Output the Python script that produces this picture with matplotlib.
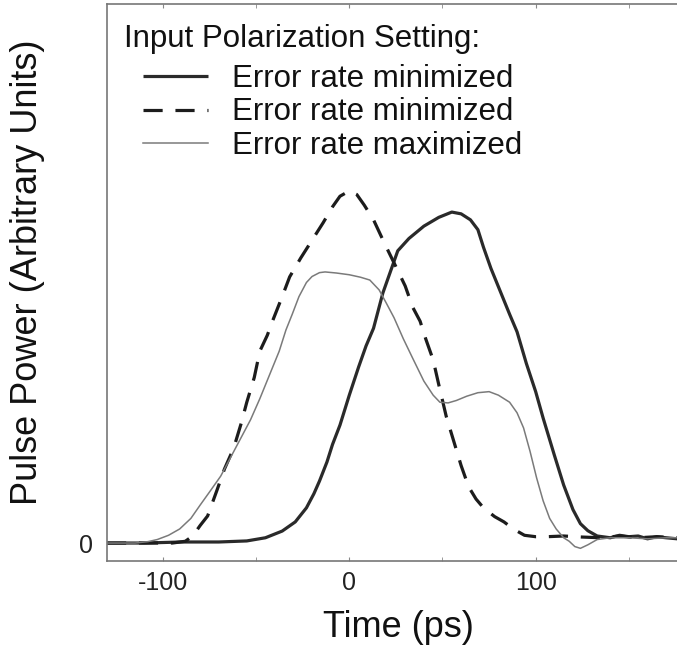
import matplotlib
matplotlib.use('Agg')
import matplotlib.pyplot as plt

plt.rcParams['font.family'] = ['Liberation Sans', 'DejaVu Sans']
plt.rcParams['axes.unicode_minus'] = False

# solid curve: error rate minimized (first setting)
t_solid = [-130, -110, -90, -70, -55, -45, -36, -29, -23, -19, -16, -12, -9, -5, 0, 5, 9, 13,
           18, 22, 26, 32, 40, 48, 55, 60, 65, 69, 72, 76, 81, 86, 90, 95, 100, 104, 110, 115,
           120, 124, 128, 133, 140, 145, 150, 155, 160, 165, 170, 176, 183]
p_solid = [0.0, 0.0, 0.003, 0.003, 0.006, 0.015, 0.034, 0.06, 0.10, 0.14, 0.176, 0.23, 0.28,
           0.335, 0.42, 0.50, 0.56, 0.61, 0.71, 0.77, 0.83, 0.865, 0.90, 0.925, 0.94, 0.935,
           0.918, 0.89, 0.84, 0.78, 0.715, 0.65, 0.60, 0.51, 0.43, 0.355, 0.25, 0.165, 0.095,
           0.055, 0.035, 0.02, 0.015, 0.022, 0.018, 0.02, 0.012, 0.018, 0.015, 0.012, 0.015]

# dashed curve: error rate minimized (second setting)
t_dash = [-130, -110, -95, -88, -84, -80, -76, -71, -67, -62, -58, -55, -51, -48, -44, -41,
          -36, -32, -26, -20, -14, -9, -5, 0, 4, 8, 13, 19, 25, 30, 34, 38, 41, 45, 48, 52, 56,
          60, 64, 68, 72, 78, 83, 88, 94, 100, 106, 115, 125, 135, 145, 155, 165, 175, 183]
p_dash = [0.0, 0.0, 0.0, 0.005, 0.02, 0.05, 0.077, 0.15, 0.21, 0.27, 0.34, 0.40, 0.47, 0.545,
          0.59, 0.633, 0.70, 0.756, 0.81, 0.86, 0.91, 0.955, 0.985, 1.0, 0.99, 0.96, 0.918,
          0.85, 0.785, 0.73, 0.67, 0.63, 0.58, 0.52, 0.45, 0.36, 0.29, 0.22, 0.16, 0.125, 0.10,
          0.075, 0.06, 0.04, 0.022, 0.018, 0.018, 0.02, 0.017, 0.015, 0.02, 0.015, 0.018,
          0.015, 0.015]

# thin grey curve: error rate maximized
t_max = [-130, -115, -108, -103, -97, -91, -85, -80, -75, -69, -64, -59, -53, -48, -43, -37.6,
         -34, -30.6, -27, -23, -20, -16, -13, -7, 0, 6, 11, 16, 20, 24, 29, 34, 40, 45, 48.6,
         53, 57.5, 63, 69, 75, 80, 86, 90, 93.5, 97, 100.5, 104, 107.5, 111, 115, 118, 121,
         124, 128, 133, 140, 150, 160, 170, 183]
p_max = [0.0, 0.0, 0.004, 0.01, 0.022, 0.04, 0.07, 0.108, 0.145, 0.19, 0.24, 0.29, 0.35, 0.41,
         0.475, 0.545, 0.605, 0.65, 0.70, 0.74, 0.757, 0.768, 0.77, 0.767, 0.762, 0.755, 0.747,
         0.719, 0.68, 0.64, 0.58, 0.525, 0.46, 0.42, 0.40, 0.398, 0.405, 0.417, 0.427, 0.43,
         0.42, 0.40, 0.37, 0.327, 0.26, 0.185, 0.12, 0.07, 0.04, 0.015, 0.005, -0.01, -0.015,
         -0.005, 0.01, 0.015, 0.015, 0.012, 0.015, 0.015]

labels = ['Error rate minimized', 'Error rate minimized', 'Error rate maximized']
legend_title = 'Input Polarization Setting:'
xticks_major = [-100, 0, 100]
xticks_minor = [-50, 50, 150]

W, H = 677, 648
fig = plt.figure(figsize=(W / 100, H / 100), dpi=100)
ax = fig.add_axes([107 / W, 87 / H, (690 - 107) / W, (561 - 4) / H])

l1, = ax.plot(t_solid, p_solid, color='#2a2a2a', lw=2.3, solid_capstyle='butt')
l2, = ax.plot(t_dash, p_dash, color='#1c1c1c', lw=2.3, dashes=(6, 4))
l3, = ax.plot(t_max, p_max, color='#7a7a7a', lw=1.1)

ax.set_xlim(-130, 182.8)
ax.set_ylim(-0.051, 1.531)

ax.set_xticks(xticks_major)
ax.set_xticks(xticks_minor, minor=True)
ax.set_yticks([0])
ax.tick_params(axis='x', which='both', direction='in', top=True, length=3,
               color='#888888', labelsize=18, pad=7, labelcolor='#222222')
ax.tick_params(axis='y', length=0, labelsize=18, pad=10, labelcolor='#222222')
for s in ax.spines.values():
    s.set_color('#777777')
    s.set_linewidth(1.2)

ax.set_xlabel('Time (ps)', fontsize=26, color='#111111')
ax.xaxis.set_label_coords((398 - 107) / 583, -(637 - 561) / 557)
ax.xaxis.label.set_va('baseline')
ax.set_ylabel('Pulse Power (Arbitrary Units)', fontsize=26, color='#111111')
ax.yaxis.set_label_coords((28 - 107) / 583, (561 - 272) / 557)
ax.yaxis.label.set_va('center')

fig.text(124 / W, 1 - 47 / H, legend_title, fontsize=22.5, va='baseline', color='#111111')
leg = ax.legend([l1, l2, l3], labels, loc='upper left', bbox_to_anchor=(143 / W, 1 - 64 / H),
                bbox_transform=fig.transFigure, frameon=False, borderpad=0, borderaxespad=0,
                handlelength=2.08, handletextpad=0.77, labelspacing=0.11, fontsize=22.5)
for txt in leg.get_texts():
    txt.set_color('#111111')

fig.savefig('out.png', dpi=100)
